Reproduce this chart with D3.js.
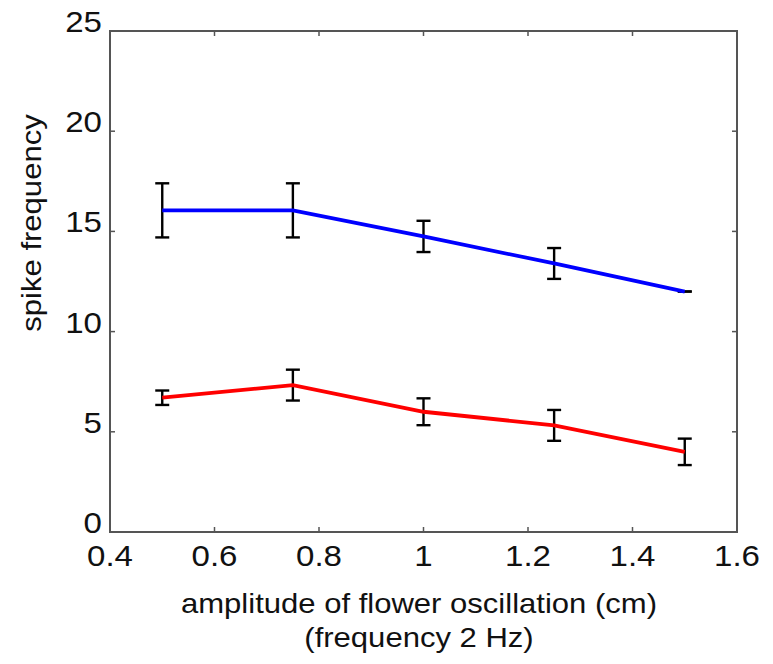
<!DOCTYPE html>
<html>
<head>
<meta charset="utf-8">
<script src="https://cdn.jsdelivr.net/npm/d3@7"></script>
<style>
  html, body { margin: 0; padding: 0; background: #fff; }
  svg { display: block; font-family: "Liberation Sans", Arial, Helvetica, sans-serif; }
</style>
</head>
<body>
<svg id="chart" width="773" height="664"></svg>
<script>
const amplitudes = [0.5, 0.75, 1.0, 1.25, 1.5];
const blueMean = [16.05, 16.05, 14.75, 13.4, 12.0];
const blueErr  = [1.35, 1.35, 0.78, 0.77, 0.0];
const redMean  = [6.7, 7.33, 6.0, 5.32, 4.0];
const redErr   = [0.36, 0.77, 0.67, 0.77, 0.66];
const xTicks = [0.4, 0.6, 0.8, 1.0, 1.2, 1.4, 1.6];
const xTickLabels = ["0.4", "0.6", "0.8", "1", "1.2", "1.4", "1.6"];
const yTicks = [0, 5, 10, 15, 20, 25];
const yTickLabels = ["0", "5", "10", "15", "20", "25"];

const svg = d3.select("#chart");
const L = 110, R = 737, T = 31, B = 532;
const x = d3.scaleLinear().domain([0.4, 1.6]).range([L, R]);
const y = d3.scaleLinear().domain([0, 25]).range([B, T]);
const frameColor = "#555";
const tickLen = 5;

// ticks (inward, all sides)
const g = svg.append("g");
xTicks.forEach(v => {
  g.append("line").attr("x1", x(v)).attr("x2", x(v)).attr("y1", B).attr("y2", B - tickLen)
    .attr("stroke", frameColor).attr("stroke-width", 1.5);
  g.append("line").attr("x1", x(v)).attr("x2", x(v)).attr("y1", T).attr("y2", T + tickLen)
    .attr("stroke", frameColor).attr("stroke-width", 1.5);
});
yTicks.forEach(v => {
  g.append("line").attr("x1", L).attr("x2", L + tickLen).attr("y1", y(v)).attr("y2", y(v))
    .attr("stroke", frameColor).attr("stroke-width", 1.5);
  g.append("line").attr("x1", R).attr("x2", R - tickLen).attr("y1", y(v)).attr("y2", y(v))
    .attr("stroke", frameColor).attr("stroke-width", 1.5);
});

// frame
svg.append("rect").attr("x", L).attr("y", T).attr("width", R - L).attr("height", B - T)
  .attr("fill", "none").attr("stroke", frameColor).attr("stroke-width", 2);

const tickFont = 29, tickStretch = 1.14;
const titleFont = 27, titleStretch = 1.15;

// tick labels
svg.append("g").selectAll("text").data(xTicks).join("text")
  .attr("transform", d => `translate(${x(d)},566) scale(${tickStretch},1)`)
  .attr("text-anchor", "middle").attr("font-size", tickFont).attr("fill", "#111")
  .text((d, i) => xTickLabels[i]);
svg.append("g").selectAll("text").data(yTicks).join("text")
  .attr("transform", d => `translate(102,${y(d) + 1}) scale(${tickStretch},1)`)
  .attr("text-anchor", "end").attr("font-size", tickFont).attr("fill", "#111")
  .text((d, i) => yTickLabels[i]);

// axis titles
svg.append("text").attr("transform", `translate(419,613) scale(${titleStretch},1)`)
  .attr("text-anchor", "middle")
  .attr("font-size", titleFont).attr("fill", "#111").text("amplitude of flower oscillation (cm)");
svg.append("text").attr("transform", `translate(419,647) scale(${titleStretch},1)`)
  .attr("text-anchor", "middle")
  .attr("font-size", titleFont).attr("fill", "#111").text("(frequency 2 Hz)");
svg.append("text").attr("transform", `translate(41,223) rotate(-90) scale(${titleStretch},1)`)
  .attr("text-anchor", "middle")
  .attr("font-size", titleFont).attr("fill", "#111").text("spike frequency");

// error bars
function errorBars(means, errs) {
  const eg = svg.append("g").attr("stroke", "#000").attr("stroke-width", 2.4);
  amplitudes.forEach((a, i) => {
    const cx = x(a), hi = y(means[i] + errs[i]), lo = y(means[i] - errs[i]);
    const cw = 7;
    eg.append("line").attr("x1", cx).attr("x2", cx).attr("y1", hi).attr("y2", lo);
    eg.append("line").attr("x1", cx - cw).attr("x2", cx + cw).attr("y1", hi).attr("y2", hi);
    eg.append("line").attr("x1", cx - cw).attr("x2", cx + cw).attr("y1", lo).attr("y2", lo);
  });
}
errorBars(blueMean, blueErr);
errorBars(redMean, redErr);

const line = d3.line().x((d, i) => x(amplitudes[i])).y(d => y(d));
svg.append("path").datum(blueMean).attr("d", line).attr("fill", "none")
  .attr("stroke", "#0000ff").attr("stroke-width", 3.8);
svg.append("path").datum(redMean).attr("d", line).attr("fill", "none")
  .attr("stroke", "#ff0000").attr("stroke-width", 3.8);
</script>
</body>
</html>
